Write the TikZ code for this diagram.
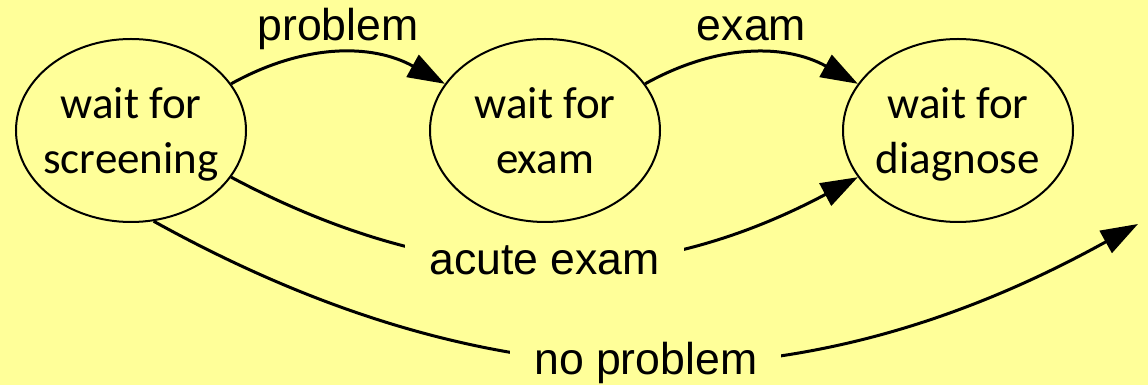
\documentclass[tikz,border=0pt]{standalone}
\usepackage{fontspec}
\setmainfont{Liberation Sans}
\newfontfamily\calibrifont{Carlito}
\usetikzlibrary{arrows.meta,shapes.geometric}
\definecolor{bgyellow}{RGB}{255,255,153}

\tikzset{
  state/.style={ellipse, draw, line width=1pt, minimum width=115pt, minimum height=91.5pt},
  statetxt/.style={align=center, font=\calibrifont\fontsize{22.5}{27.5}\selectfont, text depth=4.5pt, inner sep=0pt},
  elabel/.style={font=\fontsize{22.3}{26}\selectfont, text height=16pt, text depth=4.6pt, inner ysep=1pt},
  gaplabel/.style={elabel, fill=bgyellow, inner xsep=12pt},
  arr/.style={-{Triangle[length=18.5pt,width=12.5pt]}, line width=1.5pt}
}

\begin{document}
\begin{tikzpicture}[x=0.5pt, y=0.5pt]
            % background
            \useasboundingbox (0,0) rectangle (1148,385);
            \fill[bgyellow] (0,0) rectangle (1148,385);

            % states
            \node[state] (scr) at (131,254.5) {};
            \node[state] (exm) at (545,254.5) {};
            \node[state] (dia) at (958,254.5) {};
            \node[statetxt, yshift=-2.5pt] (scrtxt) at (scr) {wait for\\screening};
            \node[statetxt, yshift=-2.5pt] (exmtxt) at (exm) {wait for\\exam};
            \node[statetxt, yshift=-2.5pt] (diatxt) at (dia) {wait for\\diagnose};

            % free end of the last transition
            \coordinate (out) at (1138,161);

            % transitions
            \draw[arr] (scr.25) to[out=29, in=151] node[elabel, above] (lprob) {problem} (exm.155);
            \draw[arr] (exm.25) to[out=29, in=151] node[elabel, above] (lexam) {exam} (dia.155);
            \draw[arr] (scr.-25) to[out=-28, in=208] node[gaplabel] (lacute) {acute exam} (dia.205);
            \draw[arr] (scr.-76) to[out=-29, in=209] node[gaplabel] (lnoprob) {no problem} (out);
\end{tikzpicture}
\end{document}
